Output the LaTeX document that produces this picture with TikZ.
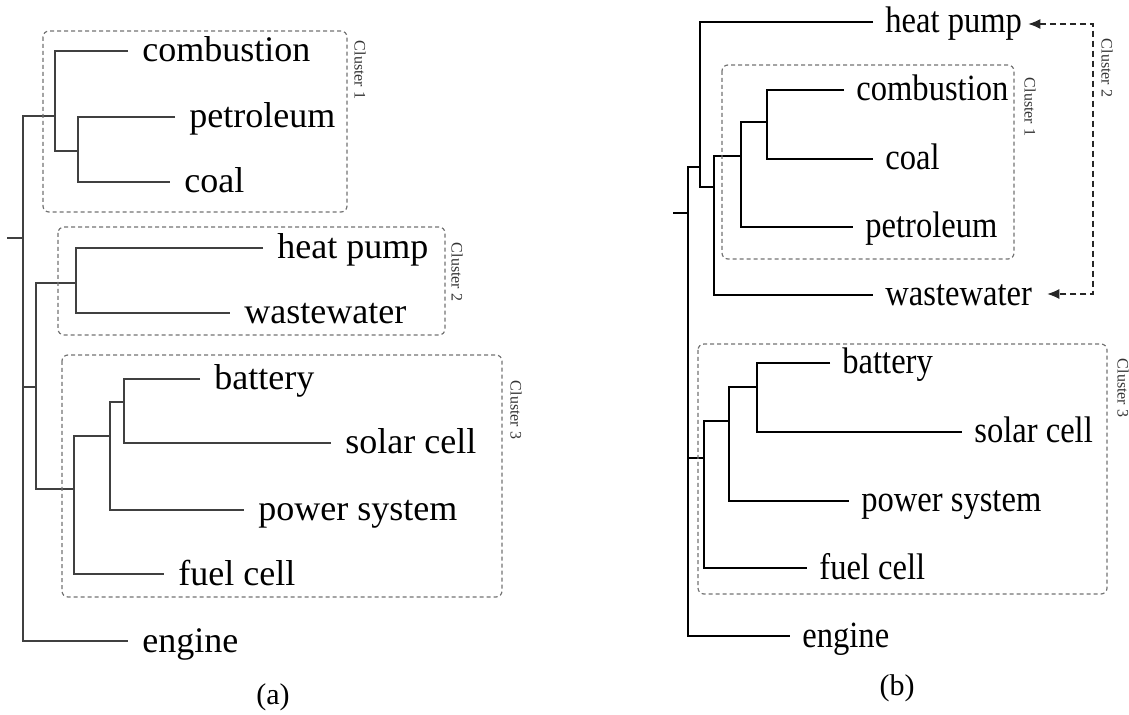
\documentclass[tikz,border=0pt]{standalone}
\usepackage{fontspec}
\setmainfont{Liberation Serif}
\newfontfamily\narrowserif[FakeStretch=0.88]{Liberation Serif}
\usetikzlibrary{arrows.meta,positioning,calc}

\begin{document}
\begin{tikzpicture}[
        x=0.5pt, y=-0.5pt,
        leafa/.style={anchor=base west, yshift=-5.5pt, inner sep=0pt, font=\fontsize{18}{21}\selectfont},
        leafb/.style={anchor=base west, yshift=-5.5pt, inner sep=0pt, font=\narrowserif\fontsize{18.5}{21}\selectfont},
        treea/.style={draw=black!75, line width=0.7pt},
        treeb/.style={draw=black, line width=1pt},
        clusterbox/.style={draw=black!55, line width=0.6pt, dash pattern=on 2pt off 1.5pt, rounded corners=3pt},
        clusterlabel/.style={rotate=-90, inner sep=0pt, text=black!80, font=\fontsize{8}{9}\selectfont},
        c2link/.style={draw=black!85, line width=0.6pt, dash pattern=on 3pt off 2pt, {Latex[length=6pt,width=5pt]}-{Latex[length=6pt,width=5pt]}},
        caption/.style={inner sep=0pt, font=\fontsize{15}{17}\selectfont}
    ]
        \useasboundingbox (0,0) rectangle (1129,715);

        % Tree (a): junctions
        \coordinate (a-tick) at (7,238);
        \coordinate (a-root) at (23,238);
        \coordinate (a-c1) at (55,116);
        \coordinate (a-c1a) at (78,151);
        \coordinate (a-c23) at (36,387);
        \coordinate (a-c2) at (76,283);
        \coordinate (a-c3) at (74,489);
        \coordinate (a-c3a) at (110,436);
        \coordinate (a-c3b) at (124,402);
        % Tree (a): leaf ends
        \coordinate (a-comb) at (128,51);
        \coordinate (a-petr) at (175,117);
        \coordinate (a-coal) at (170,182);
        \coordinate (a-heat) at (263,248);
        \coordinate (a-wast) at (230,313);
        \coordinate (a-batt) at (200,379);
        \coordinate (a-solar) at (331,443);
        \coordinate (a-power) at (244,510);
        \coordinate (a-fuel) at (164,574);
        \coordinate (a-eng) at (128,641);

        % Tree (a): labels
        \node[right=7pt of a-comb, leafa] (a-comb-t) {combustion};
        \node[right=7pt of a-petr, leafa] (a-petr-t) {petroleum};
        \node[right=7pt of a-coal, leafa] (a-coal-t) {coal};
        \node[right=7pt of a-heat, leafa] (a-heat-t) {heat pump};
        \node[right=7pt of a-wast, leafa] (a-wast-t) {wastewater};
        \node[right=7pt of a-batt, leafa] (a-batt-t) {battery};
        \node[right=7pt of a-solar, leafa] (a-solar-t) {solar cell};
        \node[right=7pt of a-power, leafa] (a-power-t) {power system};
        \node[right=7pt of a-fuel, leafa] (a-fuel-t) {fuel cell};
        \node[right=7pt of a-eng, leafa] (a-eng-t) {engine};

        % Tree (a): edges
        \draw[treea] (a-tick) -- (a-root);
        \draw[treea] (a-c1) -| (a-root) |- (a-eng);
        \draw[treea] (a-root) |- (a-c23);
        \draw[treea] (a-comb) -| (a-c1) |- (a-c1a);
        \draw[treea] (a-petr) -| (a-c1a) |- (a-coal);
        \draw[treea] (a-c2) -| (a-c23) |- (a-c3);
        \draw[treea] (a-heat) -| (a-c2) |- (a-wast);
        \draw[treea] (a-c3a) -| (a-c3) |- (a-fuel);
        \draw[treea] (a-c3b) -| (a-c3a) |- (a-power);
        \draw[treea] (a-batt) -| (a-c3b) |- (a-solar);

        % Tree (a): clusters
        \draw[clusterbox] (43,31) rectangle (347,212);
        \draw[clusterbox] (58,227) rectangle (445,335);
        \draw[clusterbox] (62,355) rectangle (502,597);
        \node[clusterlabel] (a-cl1) at (360,70) {Cluster 1};
        \node[clusterlabel] (a-cl2) at (457,272) {Cluster 2};
        \node[clusterlabel] (a-cl3) at (516,410) {Cluster 3};

        % Tree (b): junctions
        \coordinate (b-tick) at (673,213);
        \coordinate (b-root) at (688,213);
        \coordinate (b-n1) at (700,167);
        \coordinate (b-n2) at (714,187);
        \coordinate (b-c1) at (741,156);
        \coordinate (b-c1a) at (767,122);
        \coordinate (b-c3) at (704,458);
        \coordinate (b-c3a) at (729,421);
        \coordinate (b-c3b) at (757,387);
        % Tree (b): leaf ends
        \coordinate (b-heat) at (873,22);
        \coordinate (b-comb) at (844,90);
        \coordinate (b-coal) at (873,159);
        \coordinate (b-petr) at (853,227);
        \coordinate (b-wast) at (873,295);
        \coordinate (b-batt) at (830,363);
        \coordinate (b-solar) at (962,432);
        \coordinate (b-power) at (849,501);
        \coordinate (b-fuel) at (807,568);
        \coordinate (b-eng) at (790,636);

        % Tree (b): labels
        \node[right=6pt of b-heat, leafb] (b-heat-t) {heat pump};
        \node[right=6pt of b-comb, leafb] (b-comb-t) {combustion};
        \node[right=6pt of b-coal, leafb] (b-coal-t) {coal};
        \node[right=6pt of b-petr, leafb] (b-petr-t) {petroleum};
        \node[right=6pt of b-wast, leafb] (b-wast-t) {wastewater};
        \node[right=6pt of b-batt, leafb] (b-batt-t) {battery};
        \node[right=6pt of b-solar, leafb] (b-solar-t) {solar cell};
        \node[right=6pt of b-power, leafb] (b-power-t) {power system};
        \node[right=6pt of b-fuel, leafb] (b-fuel-t) {fuel cell};
        \node[right=6pt of b-eng, leafb] (b-eng-t) {engine};

        % Tree (b): edges
        \draw[treeb] (b-tick) -- (b-root);
        \draw[treeb] (b-n1) -| (b-root) |- (b-eng);
        \draw[treeb] (b-root) |- (b-c3);
        \draw[treeb] (b-heat) -| (b-n1) |- (b-n2);
        \draw[treeb] (b-c1) -| (b-n2) |- (b-wast);
        \draw[treeb] (b-c1a) -| (b-c1) |- (b-petr);
        \draw[treeb] (b-comb) -| (b-c1a) |- (b-coal);
        \draw[treeb] (b-c3a) -| (b-c3) |- (b-fuel);
        \draw[treeb] (b-c3b) -| (b-c3a) |- (b-power);
        \draw[treeb] (b-batt) -| (b-c3b) |- (b-solar);

        % Tree (b): clusters
        \draw[clusterbox] (722,65) rectangle (1014,259);
        \draw[clusterbox] (698,344) rectangle (1107,594);
        \node[clusterlabel] (b-cl1) at (1030,107) {Cluster 1};
        \node[clusterlabel] (b-cl2) at (1107,68) {Cluster 2};
        \node[clusterlabel] (b-cl3) at (1123,388) {Cluster 3};
        \coordinate (b-c2top) at (1093,24);
        \coordinate (b-c2bot) at (1093,294);
        \draw[c2link] ($(b-heat-t.east |- b-c2top)+(6,0)$) -- (b-c2top) -- (b-c2bot) -- ($(b-wast-t.east |- b-c2bot)+(15,0)$);

        % Captions
        \node[caption] (cap-a) at (273,697) {(a)};
        \node[caption] (cap-b) at (897,688) {(b)};
    \end{tikzpicture}
\end{document}
